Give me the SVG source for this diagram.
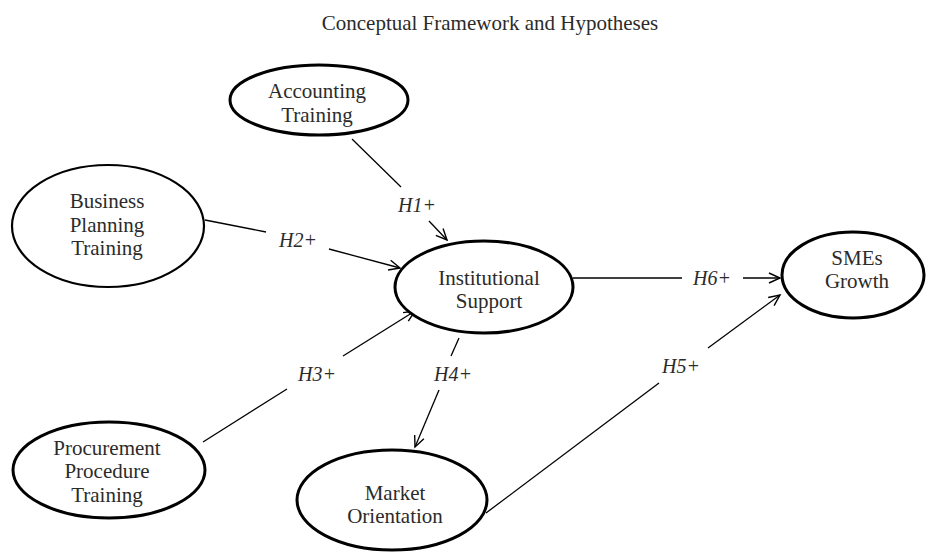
<svg xmlns="http://www.w3.org/2000/svg" width="927" height="556" viewBox="0 0 927 556">
  <defs>
    <marker id="arr" markerUnits="userSpaceOnUse" markerWidth="14" markerHeight="14" refX="12" refY="6" orient="auto">
      <path d="M1,1 L12,6 L1,11" fill="none" stroke="#000" stroke-width="1.4"/>
    </marker>
    <style>
      .node ellipse { fill: #fff; stroke: #000; stroke-width: 3; }
      .node text { font-family: "Liberation Serif", "Times New Roman", serif; font-size: 21px; fill: #2b2b2b; text-anchor: middle; }
      .title { font-family: "Liberation Serif", "Times New Roman", serif; font-size: 21px; fill: #2b2b2b; text-anchor: middle; }
      .conn line { stroke: #000; stroke-width: 1.3; fill: none; }
      .conn .ah { marker-end: url(#arr); }
      .lbl { font-family: "Liberation Serif", "Times New Roman", serif; font-size: 20px; font-style: italic; fill: #2b2b2b; text-anchor: middle; }
    </style>
  </defs>
  <rect width="927" height="556" fill="#fff"/>
  <text class="title" x="490" y="30">Conceptual Framework and Hypotheses</text>

  <g id="connectors" class="conn">
    <line x1="352" y1="139" x2="401" y2="187"/>
    <line class="ah" x1="429" y1="221" x2="447" y2="240"/>
    <line x1="205" y1="220" x2="266" y2="232"/>
    <line class="ah" x1="329" y1="249" x2="400" y2="268"/>
    <line x1="203" y1="442" x2="287" y2="389"/>
    <line class="ah" x1="343" y1="356" x2="415" y2="311"/>
    <line x1="459" y1="338" x2="451" y2="356"/>
    <line class="ah" x1="439" y1="390" x2="415" y2="447"/>
    <line x1="573" y1="278" x2="682" y2="278"/>
    <line class="ah" x1="743" y1="278" x2="780" y2="278"/>
    <line x1="486" y1="513" x2="659" y2="383"/>
    <line class="ah" x1="708" y1="348" x2="780" y2="295"/>
    <text class="lbl" x="417" y="212">H1+</text>
    <text class="lbl" x="298" y="247">H2+</text>
    <text class="lbl" x="317" y="381">H3+</text>
    <text class="lbl" x="453" y="381">H4+</text>
    <text class="lbl" x="681" y="373">H5+</text>
    <text class="lbl" x="712" y="285">H6+</text>
  </g>

  <g id="accounting" class="node">
    <ellipse cx="319" cy="100" rx="89" ry="35"/>
    <text x="317" y="98">Accounting</text>
    <text x="317" y="122">Training</text>
  </g>
  <g id="business" class="node">
    <ellipse cx="108" cy="226" rx="96" ry="61" style="stroke-width:2.2"/>
    <text x="107" y="208">Business</text>
    <text x="107" y="232">Planning</text>
    <text x="107" y="255">Training</text>
  </g>
  <g id="procurement" class="node">
    <ellipse cx="109" cy="470" rx="96" ry="48"/>
    <text x="107" y="455">Procurement</text>
    <text x="107" y="478">Procedure</text>
    <text x="107" y="502">Training</text>
  </g>
  <g id="institutional" class="node">
    <ellipse cx="484" cy="287" rx="89" ry="46"/>
    <text x="489" y="285">Institutional</text>
    <text x="489" y="308">Support</text>
  </g>
  <g id="market" class="node">
    <ellipse cx="392" cy="500" rx="95" ry="50"/>
    <text x="395" y="500">Market</text>
    <text x="395" y="523">Orientation</text>
  </g>
  <g id="smes" class="node">
    <ellipse cx="853" cy="275" rx="71" ry="43"/>
    <text x="857" y="265">SMEs</text>
    <text x="857" y="288">Growth</text>
  </g>
</svg>
